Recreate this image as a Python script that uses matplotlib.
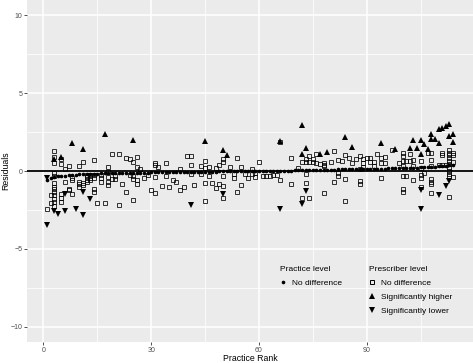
import numpy as np
import matplotlib
matplotlib.use("Agg")
import matplotlib.pyplot as plt
from matplotlib.lines import Line2D

plt.rcParams['font.family'] = ['Liberation Sans', 'DejaVu Sans']

# practice-level residuals, ordered by practice rank 1..114
practice_resid = [
    -0.55, -0.42, -0.38, -0.35, -0.32, -0.30, -0.28, -0.26, -0.24, -0.22,
    -0.21, -0.20, -0.19, -0.18, -0.17, -0.16, -0.15, -0.15, -0.14, -0.14,
    -0.13, -0.13, -0.12, -0.12, -0.11, -0.11, -0.10, -0.10, -0.10, -0.09,
    -0.09, -0.09, -0.08, -0.08, -0.08, -0.07, -0.07, -0.07, -0.06, -0.06,
    -0.06, -0.05, -0.05, -0.05, -0.05, -0.04, -0.04, -0.04, -0.03, -0.03,
    -0.03, -0.03, -0.02, -0.02, -0.02, -0.02, -0.01, -0.01, -0.01, 0.00,
    0.00, 0.00, 0.01, 0.01, 0.01, 0.02, 0.02, 0.03, 0.03, 0.04,
    0.04, 0.05, 0.05, 0.06, 0.06, 0.07, 0.07, 0.08, 0.08, 0.09,
    0.09, 0.10, 0.10, 0.11, 0.11, 0.12, 0.12, 0.13, 0.13, 0.14,
    0.14, 0.15, 0.15, 0.16, 0.16, 0.17, 0.17, 0.18, 0.19, 0.19,
    0.20, 0.21, 0.21, 0.22, 0.23, 0.24, 0.25, 0.26, 0.27, 0.29,
    0.31, 0.34, 0.37, 0.40,
]
practice_rank = np.arange(1, len(practice_resid) + 1)

# prescriber level: no difference (rank, residual)
no_diff = [
    (1, -2.46), (2, -1.54), (2, -2.03),
    (3, 1.30), (3, 0.90), (3, 0.50), (3, -0.15), (3, -0.30), (3, -0.79), (3, -1.00),
    (3, -1.17), (3, -1.37), (3, -1.56), (3, -1.78), (3, -2.00), (3, -2.22),
    (5, 0.75), (5, 0.45), (5, -1.50), (5, -1.75), (5, -1.97),
    (6, 0.13), (6, -0.70), (7, 0.34), (7, -1.15), (7, -1.25),
    (8, -0.43), (8, -0.55), (8, -1.48),
    (10, 0.34), (10, -0.70), (10, -0.85), (10, -1.00),
    (11, 0.60), (11, -0.78), (11, -0.90),
    (12, -0.26), (12, -0.40), (12, -0.58), (12, -0.72),
    (13, -0.26), (13, -0.43), (13, -0.58),
    (14, 0.70), (14, -0.26), (14, -0.43), (14, -1.13), (14, -1.35),
    (15, -2.07), (16, -0.26), (16, -0.47), (16, -0.70), (17, -2.05),
    (18, 0.28), (18, -0.04), (18, -0.36), (18, -0.68), (18, -0.90),
    (19, 1.10), (19, -0.51), (20, -0.30), (20, -0.51),
    (21, 1.07), (21, -2.20), (22, -0.85), (23, 0.85), (23, -1.32),
    (24, 0.77), (24, -0.26), (25, 0.56), (25, -0.30), (25, -0.51), (25, -1.88),
    (26, 0.88), (26, 0.24), (26, -0.58), (26, -0.85),
    (27, 0.13), (28, -0.45), (29, -0.23), (30, -1.20),
    (31, 0.53), (31, 0.38), (31, -0.36), (31, -1.41),
    (32, 0.28), (33, -0.96), (34, 0.49), (34, -0.30), (35, -1.05), (36, -0.58), (37, -0.73),
    (38, 0.15), (38, -1.24), (39, -1.00), (40, 0.96), (41, 0.96), (41, 0.38), (41, -0.17),
    (42, -0.88), (44, -0.21), (44, 0.30), (45, 0.64), (45, 0.17), (45, -0.79), (45, -1.94),
    (46, 0.26), (46, -0.32), (47, -0.77), (48, 0.17), (48, -1.07), (49, 0.38), (49, -0.81),
    (50, 0.75), (50, 0.56), (50, -0.32), (50, -0.94), (50, -1.75),
    (52, 0.26), (53, -0.21), (53, -0.43), (54, 0.83), (54, -1.37), (55, 0.26), (55, -0.90),
    (56, -0.21), (57, -0.43), (58, -0.21), (58, 0.14), (59, -0.40), (59, -0.15), (60, 0.60),
    (61, -0.34), (62, -0.34), (63, -0.30), (64, -0.26), (65, -0.26), (66, -0.57), (66, 1.88),
    (69, 0.81), (69, -0.86), (71, 0.17), (72, 0.56), (72, -1.75),
    (73, 0.77), (73, 0.56), (73, -0.19), (73, -0.77), (74, 0.98), (74, 0.56), (74, -1.75),
    (75, 0.77), (75, 0.56), (76, 0.49), (76, 1.07), (77, 0.47),
    (78, 0.38), (78, 0.52), (78, 0.35), (78, -1.41),
    (80, 0.56), (81, 1.30), (81, -0.68), (82, 0.70), (82, -0.11), (82, -0.30), (83, 0.64),
    (84, 1.03), (84, -0.51), (84, -1.90), (85, 0.81), (86, 0.49), (87, 0.77),
    (88, 0.96), (88, 0.13), (88, -0.64), (88, -0.85), (89, 0.75), (89, 0.49), (89, 0.24),
    (90, 0.81), (91, 0.81), (91, 0.60), (92, 0.60), (92, 0.32), (93, 1.07),
    (94, 0.85), (94, 0.49), (94, -0.47), (95, 0.92), (95, 0.49), (97, 1.37),
    (99, 0.49), (100, 1.15), (100, 0.96), (100, 0.64), (100, 0.32), (100, -0.30),
    (100, -1.15), (100, -1.32), (101, 0.64), (101, -0.30), (102, 1.07), (102, 0.64),
    (103, 0.70), (103, 0.34), (103, -0.58),
    (105, 0.64), (105, 0.21), (105, -0.26), (105, -0.43), (105, -1.00), (106, -0.15),
    (107, 1.13), (108, 1.13), (108, 0.70), (108, 0.32), (108, -0.51), (108, -0.68),
    (108, -0.83), (108, -1.39), (110, 0.38), (111, 1.17), (111, 1.03), (111, 0.38), (112, 0.38),
    (113, 1.35), (113, 1.17), (113, 1.03), (113, 0.85), (113, 0.64), (113, 0.43),
    (113, 0.17), (113, 0.00), (113, -0.17), (113, -0.34), (113, -1.69),
    (114, 1.17), (114, 1.03), (114, 0.56), (114, -0.36),
]

# prescriber level: significantly higher
sig_higher = [
    (3, 0.75), (5, 0.90), (8, 1.82), (11, 1.43), (17, 2.35), (25, 1.97), (45, 1.94),
    (50, 1.35), (51, 1.03), (66, 1.90), (72, 2.97), (73, 1.46), (72, 1.08), (77, 1.12),
    (79, 1.20), (84, 2.17), (86, 1.53), (94, 1.82), (98, 1.41), (102, 1.48), (103, 1.98),
    (104, 1.50), (105, 2.02), (106, 1.74), (107, 1.44), (108, 2.37), (108, 2.03),
    (109, 2.07), (110, 2.67), (110, 1.77), (111, 2.73), (112, 2.88), (113, 3.01),
    (113, 2.22), (114, 2.37), (114, 1.88), (105, 1.09),
]

# prescriber level: significantly lower
sig_lower = [
    (1, -0.45), (1, -3.46), (3, -2.60), (4, -2.78), (6, -2.60), (6, -1.47), (9, -2.46),
    (11, -2.80), (11, -1.38), (13, -1.80), (41, -2.20), (50, -1.48), (66, -2.46),
    (72, -2.14), (73, -1.28), (105, -2.46), (105, -1.24), (110, -1.56), (112, -0.98),
    (113, -0.63),
]

W, H = 473, 363
fig = plt.figure(figsize=(W / 100, H / 100), dpi=100)
ax = fig.add_axes([27.3 / W, 21 / H, 1 - 27.3 / W, 342 / H])
ax.set_facecolor('#EBEBEB')

ax.set_xlim(-4.5, 119.6)
ax.set_ylim(-10.98, 10.98)
ax.set_xticks([0, 30, 60, 90])
ax.set_yticks([-10, -5, 0, 5, 10])
ax.set_xticks([15, 45, 75, 105], minor=True)
ax.set_yticks([-7.5, -2.5, 2.5, 7.5], minor=True)
ax.grid(True, which='major', color='white', linewidth=1.1)
ax.grid(True, which='minor', color='white', linewidth=0.55)
ax.set_axisbelow(True)
for s in ax.spines.values():
    s.set_visible(False)
ax.tick_params(which='major', length=2.5, width=0.6, color='#333333',
               labelsize=5, labelcolor='#4D4D4D', pad=1.0)
ax.tick_params(which='minor', length=0)
ax.set_yticklabels(['\u221210', '\u22125', '0', '5', '10'])

ax.axhline(0, color='black', linewidth=1.3, zorder=2)

sq = np.array(no_diff)
up = np.array(sig_higher)
dn = np.array(sig_lower)

ax.plot(sq[:, 0], sq[:, 1], ls='none', marker='s', ms=3.0, mfc='none',
        mec='black', mew=0.7, alpha=0.8, zorder=3)
ax.plot(practice_rank, practice_resid, ls='none', marker='o', ms=1.6,
        color='black', zorder=4)
ax.plot(up[:, 0], up[:, 1], ls='none', marker='^', ms=4.0, color='black',
        mew=0, zorder=5)
ax.plot(dn[:, 0], dn[:, 1], ls='none', marker='v', ms=4.0, color='black',
        mew=0, zorder=5)

ax.set_xlabel('Practice Rank', fontsize=6.3)
ax.set_ylabel('Residuals', fontsize=6.3)
ax.xaxis.set_label_coords(0.5, -(354.0 - 342) / 342)
ax.yaxis.set_label_coords((10.0 - 27.3) / (W - 27.3), 0.5)

lkw = dict(frameon=False, fontsize=6, title_fontsize=6, alignment='left',
           handlelength=0.8, handletextpad=0.6, labelspacing=0.75,
           borderpad=0, borderaxespad=0, loc='upper left')
h1 = [Line2D([], [], ls='none', marker='o', ms=1.6, color='black')]
leg1 = ax.legend(h1, ['No difference'], title='Practice level',
                 bbox_to_anchor=(280 / W, 1 - 266 / H),
                 bbox_transform=fig.transFigure, **lkw)
ax.add_artist(leg1)
h2 = [Line2D([], [], ls='none', marker='s', ms=3.0, mfc='none', mec='black', mew=0.7),
      Line2D([], [], ls='none', marker='^', ms=4.0, color='black', mew=0),
      Line2D([], [], ls='none', marker='v', ms=4.0, color='black', mew=0)]
ax.legend(h2, ['No difference', 'Significantly higher', 'Significantly lower'],
          title='Prescriber level', bbox_to_anchor=(369 / W, 1 - 266 / H),
          bbox_transform=fig.transFigure, **lkw)

fig.savefig('out.png', dpi=100)
